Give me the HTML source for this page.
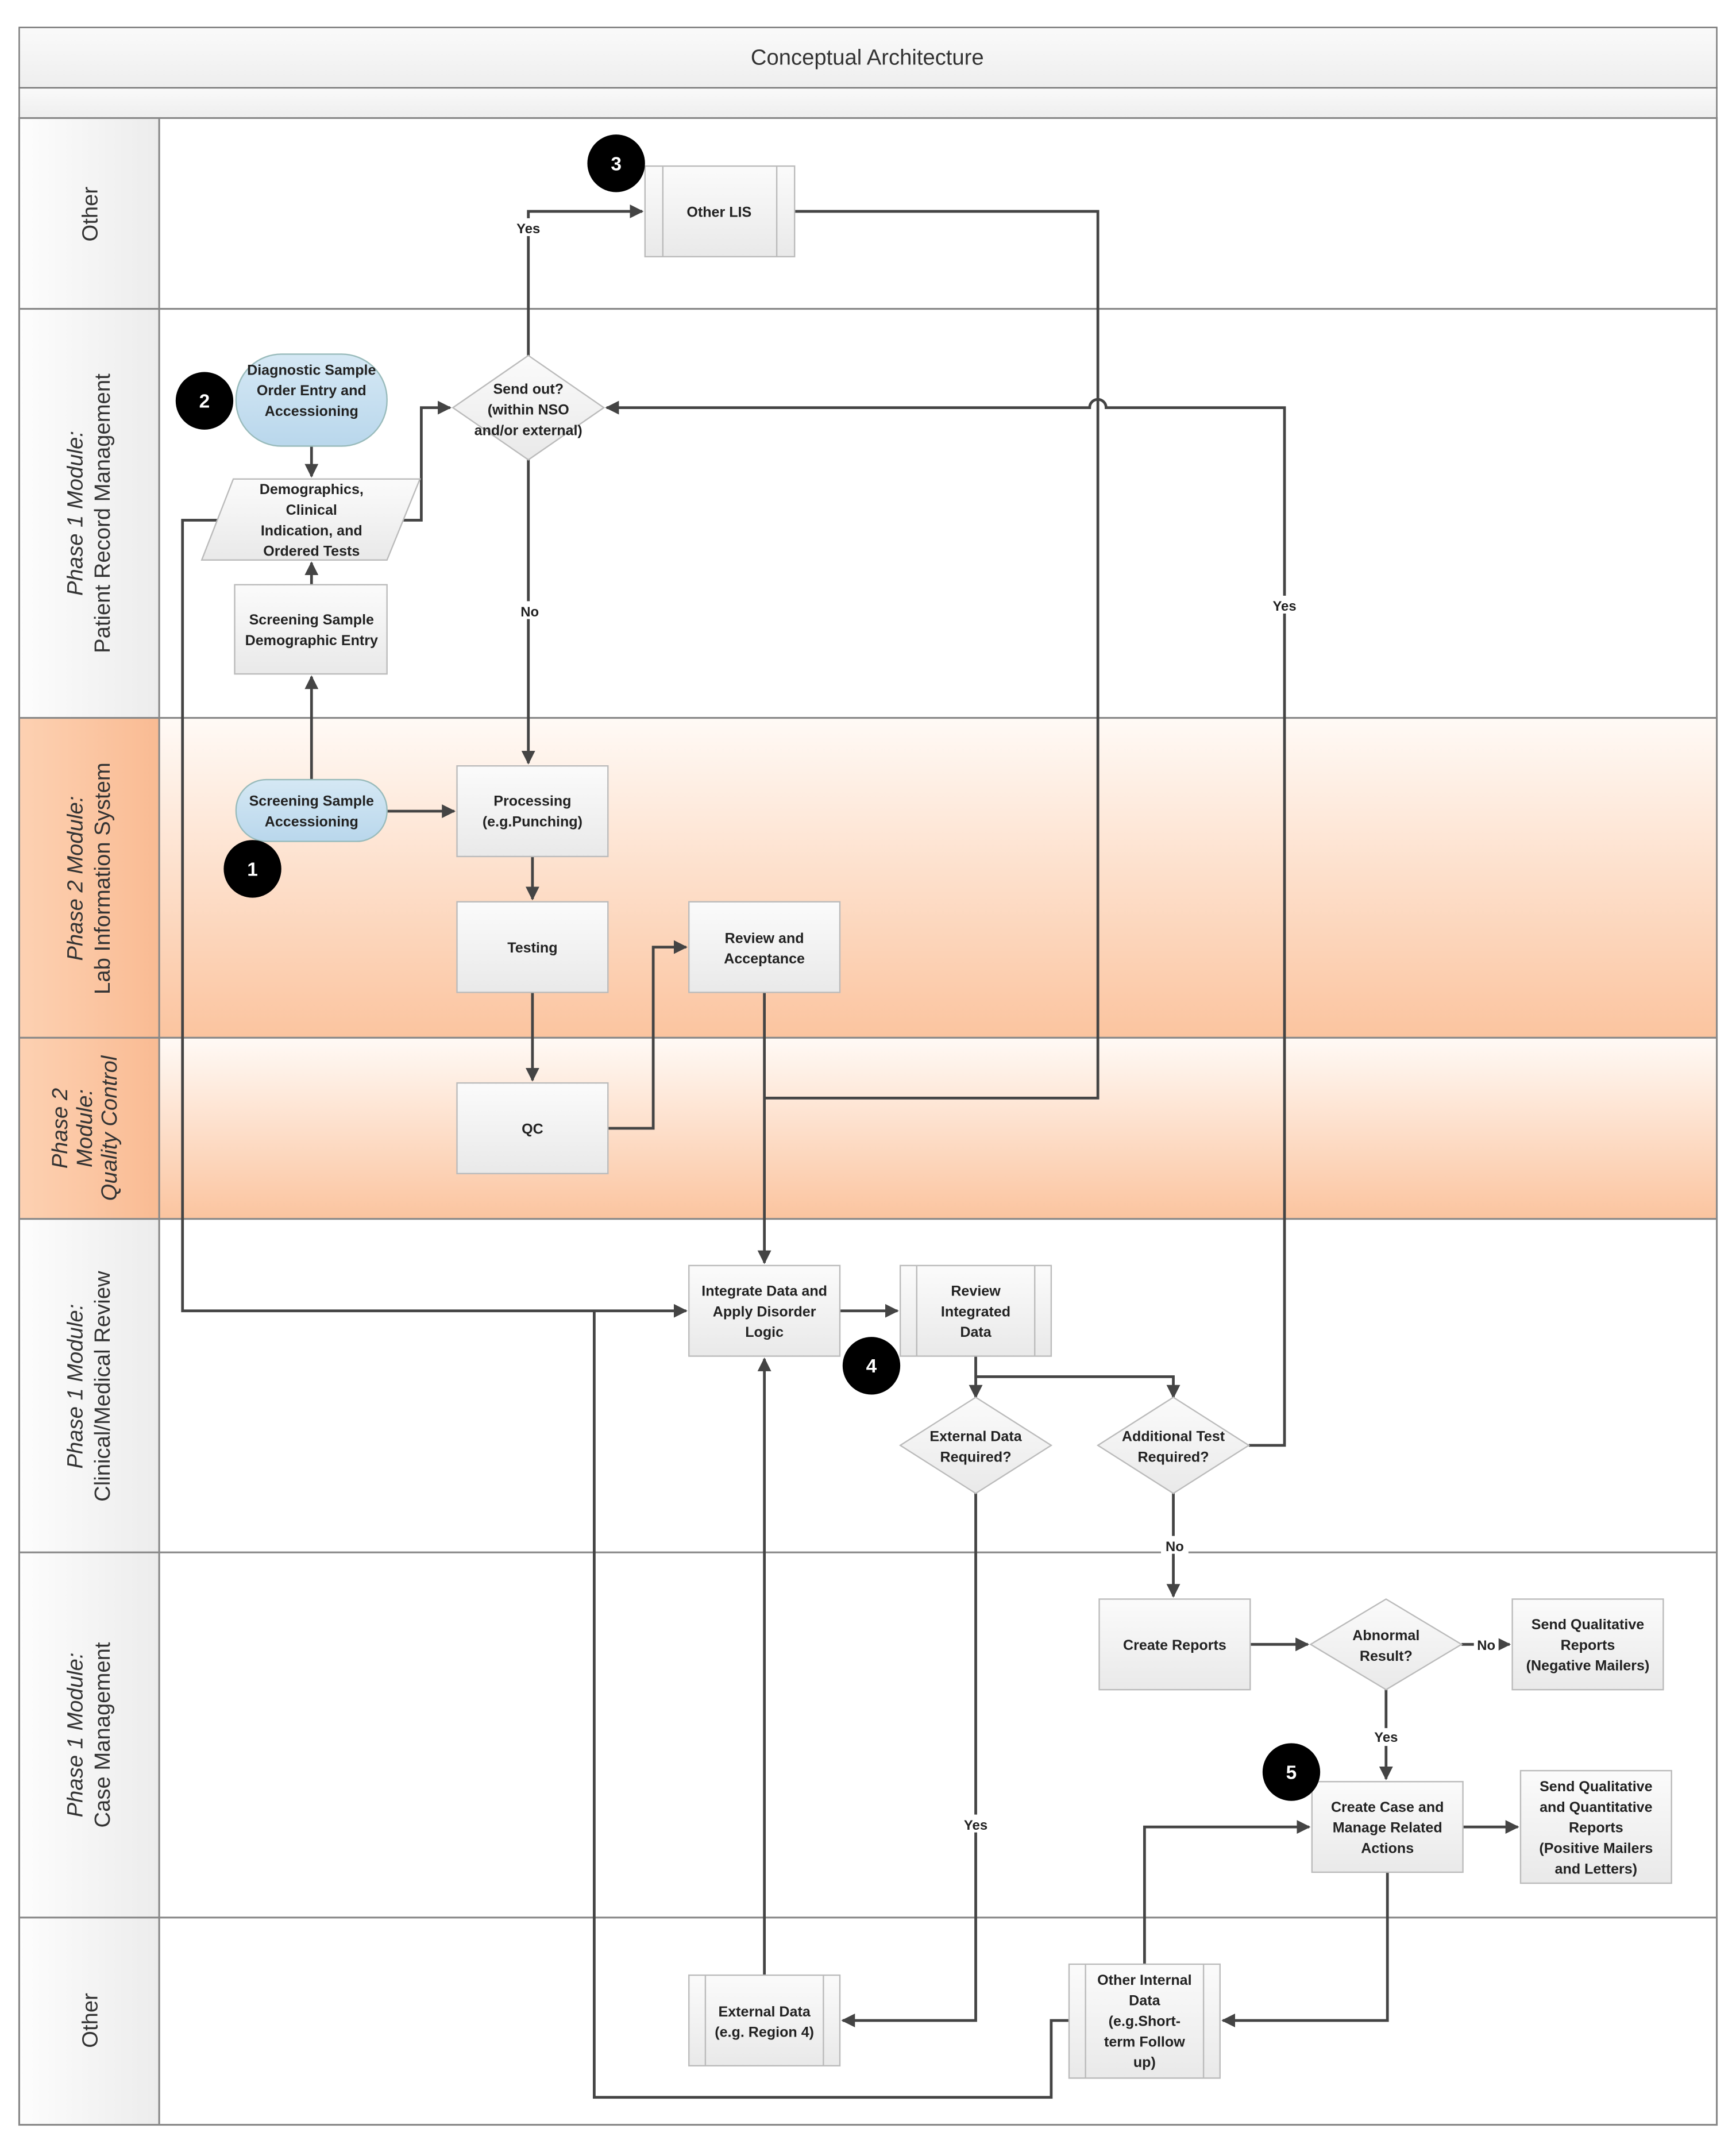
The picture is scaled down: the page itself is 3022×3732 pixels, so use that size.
<!DOCTYPE html>
<html><head><meta charset="utf-8"><style>
html,body{margin:0;padding:0;background:#fff;}
svg{display:block;}
text{font-family:"Liberation Sans",sans-serif;}
.n{font-size:10.5px;font-weight:bold;fill:#222;text-anchor:middle;}
.l{font-size:10px;font-weight:bold;fill:#222;text-anchor:middle;}
.ln{fill:none;stroke:#444;stroke-width:2;}
.bx{fill:url(#gb);stroke:#bbb;stroke-width:1;}
.lane{font-size:16px;fill:#333;text-anchor:middle;}
.lanei{font-size:16px;fill:#333;text-anchor:middle;font-style:italic;}
.c{fill:#000;}
.ct{font-size:14px;font-weight:bold;fill:#fff;text-anchor:middle;}
</style></head><body>
<svg width="3022" height="3732" viewBox="0 0 1265 1562" preserveAspectRatio="none">
<defs>
<linearGradient id="gb" x1="0" y1="0" x2="0" y2="1"><stop offset="0" stop-color="#fbfbfb"/><stop offset="1" stop-color="#e9e9e9"/></linearGradient>
<linearGradient id="go" x1="0" y1="0" x2="0" y2="1"><stop offset="0" stop-color="#fffaf6"/><stop offset="1" stop-color="#fbc49f"/></linearGradient>
<linearGradient id="gl" x1="0" y1="0" x2="1" y2="0"><stop offset="0" stop-color="#fdfdfd"/><stop offset="1" stop-color="#ececec"/></linearGradient>
<linearGradient id="glo" x1="0" y1="0" x2="1" y2="0"><stop offset="0" stop-color="#fdd1b2"/><stop offset="1" stop-color="#f9bb93"/></linearGradient>
<linearGradient id="gbl" x1="0" y1="0" x2="0" y2="1"><stop offset="0" stop-color="#d5e8f4"/><stop offset="1" stop-color="#b9d7ec"/></linearGradient>
<linearGradient id="gt" x1="0" y1="0" x2="0" y2="1"><stop offset="0" stop-color="#fafafa"/><stop offset="1" stop-color="#eeeeee"/></linearGradient>
<marker id="a" markerWidth="10" markerHeight="10" refX="9" refY="5" orient="auto" markerUnits="userSpaceOnUse"><path d="M0,0 L10,5 L0,10 z" fill="#444"/></marker>
</defs>
<rect width="1265" height="1562" fill="#fff"/>
<!-- header -->
<rect x="14" y="20" width="1237" height="44" fill="url(#gt)" stroke="#777"/>
<text x="632" y="47" style="font-size:16px;fill:#333;text-anchor:middle;">Conceptual Architecture</text>
<rect x="14" y="64" width="1237" height="22" fill="url(#gt)" stroke="#777"/>
<!-- lanes -->
<rect x="116" y="523" width="1135" height="233" fill="url(#go)"/>
<rect x="116" y="756" width="1135" height="132" fill="url(#go)"/>
<rect x="14" y="86" width="102" height="437" fill="url(#gl)"/>
<rect x="14" y="523" width="102" height="365" fill="url(#glo)"/>
<rect x="14" y="888" width="102" height="660" fill="url(#gl)"/>
<g stroke="#888" stroke-width="1.3" fill="none">
<rect x="14" y="86" width="1237" height="1462"/>
<line x1="116" y1="86" x2="116" y2="1548"/>
<line x1="14" y1="225" x2="1251" y2="225"/>
<line x1="14" y1="523" x2="1251" y2="523"/>
<line x1="14" y1="756" x2="1251" y2="756"/>
<line x1="14" y1="888" x2="1251" y2="888"/>
<line x1="14" y1="1131" x2="1251" y2="1131"/>
<line x1="14" y1="1397" x2="1251" y2="1397"/>
</g>
<!-- lane labels -->
<text transform="translate(71,156) rotate(-90)" class="lane">Other</text>
<g transform="translate(65,374) rotate(-90)"><text y="-5" class="lanei">Phase 1 Module:</text><text y="15" class="lane">Patient Record Management</text></g>
<g transform="translate(65,640) rotate(-90)"><text y="-5" class="lanei">Phase 2 Module:</text><text y="15" class="lane">Lab Information System</text></g>
<g transform="translate(65,822) rotate(-90)"><text y="-16" class="lanei">Phase 2</text><text y="2" class="lanei">Module:</text><text y="20" class="lanei">Quality Control</text></g>
<g transform="translate(65,1010) rotate(-90)"><text y="-5" class="lanei">Phase 1 Module:</text><text y="15" class="lane">Clinical/Medical Review</text></g>
<g transform="translate(65,1264) rotate(-90)"><text y="-5" class="lanei">Phase 1 Module:</text><text y="15" class="lane">Case Management</text></g>
<text transform="translate(71,1472) rotate(-90)" class="lane">Other</text>

<!-- connectors -->
<g class="ln">
<path d="M385,259 V154 H468" marker-end="url(#a)"/>
<path d="M579,154 H800 V800 H557"/>
<path d="M557,723 V920" marker-end="url(#a)"/>
<path d="M385,335 V556" marker-end="url(#a)"/>
<path d="M227,325 V347" marker-end="url(#a)"/>
<path d="M227,426 V410" marker-end="url(#a)"/>
<path d="M227,568 V493" marker-end="url(#a)"/>
<path d="M282,591 H331" marker-end="url(#a)"/>
<path d="M294,379 H307 V297 H328" marker-end="url(#a)"/>
<path d="M159,379 H133 V955 H500" marker-end="url(#a)"/>
<path d="M388,624 V655" marker-end="url(#a)"/>
<path d="M388,723 V787" marker-end="url(#a)"/>
<path d="M443,822 H476 V690 H500" marker-end="url(#a)"/>
<path d="M910,1053 H936 V297 H806 A6,6 0 0 0 794,297 H442" marker-end="url(#a)"/>
<path d="M612,955 H654" marker-end="url(#a)"/>
<path d="M711,988 V1018" marker-end="url(#a)"/>
<path d="M711,1003 H855 V1018" marker-end="url(#a)"/>
<path d="M711,1088 V1472 H614" marker-end="url(#a)"/>
<path d="M855,1086 V1163" marker-end="url(#a)"/>
<path d="M911,1198 H953" marker-end="url(#a)"/>
<path d="M1065,1198 H1100" marker-end="url(#a)"/>
<path d="M1010,1231 V1296" marker-end="url(#a)"/>
<path d="M1066,1331 H1106" marker-end="url(#a)"/>
<path d="M1011,1364 V1472 H891" marker-end="url(#a)"/>
<path d="M779,1472 H766 V1528 H433 V955"/>
<path d="M834,1431 V1331 H954" marker-end="url(#a)"/>
<path d="M557,1439 V990" marker-end="url(#a)"/>
</g>
<!-- connector labels -->
<g>
<rect x="373" y="159" width="24" height="13" fill="#fff"/><text x="385" y="170" class="l">Yes</text>
<rect x="376" y="438" width="20" height="13" fill="#fff"/><text x="386" y="449" class="l">No</text>
<rect x="924" y="434" width="24" height="13" fill="#fff"/><text x="936" y="445" class="l">Yes</text>
<rect x="699" y="1322" width="24" height="13" fill="#fff"/><text x="711" y="1333" class="l">Yes</text>
<rect x="846" y="1119" width="20" height="13" fill="#fff"/><text x="856" y="1130" class="l">No</text>
<rect x="1074" y="1192" width="18" height="13" fill="#fff"/><text x="1083" y="1202" class="l">No</text>
<rect x="998" y="1259" width="24" height="13" fill="#fff"/><text x="1010" y="1269" class="l">Yes</text>
</g>

<!-- nodes -->
<rect x="470" y="121" width="109" height="66" class="bx"/><line x1="483" y1="121" x2="483" y2="187" stroke="#bbb"/><line x1="566" y1="121" x2="566" y2="187" stroke="#bbb"/>
<text x="524" y="158" class="n">Other LIS</text>

<rect x="172" y="258" width="110" height="67" rx="33" fill="url(#gbl)" stroke="#9bb" stroke-width="1"/>
<text x="227" y="273" class="n">Diagnostic Sample</text><text x="227" y="288" class="n">Order Entry and</text><text x="227" y="303" class="n">Accessioning</text>

<polygon points="170,349 306,349 282,408 147,408" fill="url(#gb)" stroke="#bbb"/>
<text x="227" y="360" class="n">Demographics,</text><text x="227" y="375" class="n">Clinical</text><text x="227" y="390" class="n">Indication, and</text><text x="227" y="405" class="n">Ordered Tests</text>

<rect x="171" y="426" width="111" height="65" class="bx"/>
<text x="227" y="455" class="n">Screening Sample</text><text x="227" y="470" class="n">Demographic Entry</text>

<polygon points="385,259 440,297 385,335 330,297" fill="url(#gb)" stroke="#bbb"/>
<text x="385" y="287" class="n">Send out?</text><text x="385" y="302" class="n">(within NSO</text><text x="385" y="317" class="n">and/or external)</text>

<rect x="172" y="568" width="110" height="45" rx="22" fill="url(#gbl)" stroke="#9bb"/>
<text x="227" y="587" class="n">Screening Sample</text><text x="227" y="602" class="n">Accessioning</text>

<rect x="333" y="558" width="110" height="66" class="bx"/>
<text x="388" y="587" class="n">Processing</text><text x="388" y="602" class="n">(e.g.Punching)</text>
<rect x="333" y="657" width="110" height="66" class="bx"/>
<text x="388" y="694" class="n">Testing</text>
<rect x="502" y="657" width="110" height="66" class="bx"/>
<text x="557" y="687" class="n">Review and</text><text x="557" y="702" class="n">Acceptance</text>
<rect x="333" y="789" width="110" height="66" class="bx"/>
<text x="388" y="826" class="n">QC</text>

<rect x="502" y="922" width="110" height="66" class="bx"/>
<text x="557" y="944" class="n">Integrate Data and</text><text x="557" y="959" class="n">Apply Disorder</text><text x="557" y="974" class="n">Logic</text>
<rect x="656" y="922" width="110" height="66" class="bx"/><line x1="668" y1="922" x2="668" y2="988" stroke="#bbb"/><line x1="754" y1="922" x2="754" y2="988" stroke="#bbb"/>
<text x="711" y="944" class="n">Review</text><text x="711" y="959" class="n">Integrated</text><text x="711" y="974" class="n">Data</text>

<polygon points="711,1018 766,1053 711,1088 656,1053" fill="url(#gb)" stroke="#bbb"/>
<text x="711" y="1050" class="n">External Data</text><text x="711" y="1065" class="n">Required?</text>
<polygon points="855,1018 910,1053 855,1088 800,1053" fill="url(#gb)" stroke="#bbb"/>
<text x="855" y="1050" class="n">Additional Test</text><text x="855" y="1065" class="n">Required?</text>

<rect x="801" y="1165" width="110" height="66" class="bx"/>
<text x="856" y="1202" class="n">Create Reports</text>
<polygon points="1010,1165 1065,1198 1010,1231 955,1198" fill="url(#gb)" stroke="#bbb"/>
<text x="1010" y="1195" class="n">Abnormal</text><text x="1010" y="1210" class="n">Result?</text>
<rect x="1102" y="1165" width="110" height="66" class="bx"/>
<text x="1157" y="1187" class="n">Send Qualitative</text><text x="1157" y="1202" class="n">Reports</text><text x="1157" y="1217" class="n">(Negative Mailers)</text>

<rect x="956" y="1298" width="110" height="66" class="bx"/>
<text x="1011" y="1320" class="n">Create Case and</text><text x="1011" y="1335" class="n">Manage Related</text><text x="1011" y="1350" class="n">Actions</text>
<rect x="1108" y="1290" width="110" height="82" class="bx"/>
<text x="1163" y="1305" class="n">Send Qualitative</text><text x="1163" y="1320" class="n">and Quantitative</text><text x="1163" y="1335" class="n">Reports</text><text x="1163" y="1350" class="n">(Positive Mailers</text><text x="1163" y="1365" class="n">and Letters)</text>

<rect x="502" y="1439" width="110" height="66" class="bx"/><line x1="514" y1="1439" x2="514" y2="1505" stroke="#bbb"/><line x1="600" y1="1439" x2="600" y2="1505" stroke="#bbb"/>
<text x="557" y="1469" class="n">External Data</text><text x="557" y="1484" class="n">(e.g. Region 4)</text>
<rect x="779" y="1431" width="110" height="83" class="bx"/><line x1="791" y1="1431" x2="791" y2="1514" stroke="#bbb"/><line x1="877" y1="1431" x2="877" y2="1514" stroke="#bbb"/>
<text x="834" y="1446" class="n">Other Internal</text><text x="834" y="1461" class="n">Data</text><text x="834" y="1476" class="n">(e.g.Short-</text><text x="834" y="1491" class="n">term Follow</text><text x="834" y="1506" class="n">up)</text>

<!-- numbered circles -->
<circle cx="449" cy="119" r="21" class="c"/><text x="449" y="124" class="ct">3</text>
<circle cx="149" cy="292" r="21" class="c"/><text x="149" y="297" class="ct">2</text>
<circle cx="184" cy="633" r="21" class="c"/><text x="184" y="638" class="ct">1</text>
<circle cx="635" cy="995" r="21" class="c"/><text x="635" y="1000" class="ct">4</text>
<circle cx="941" cy="1291" r="21" class="c"/><text x="941" y="1296" class="ct">5</text>
</svg>
</body></html>
